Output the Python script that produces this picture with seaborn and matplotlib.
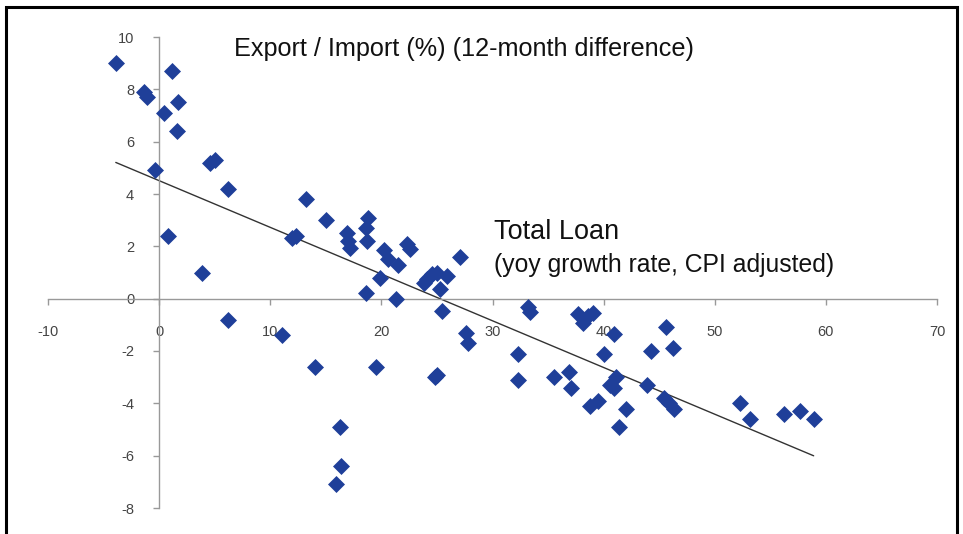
import numpy as np
import pandas as pd
import matplotlib
matplotlib.use("Agg")
import matplotlib.pyplot as plt
import seaborn as sns
from matplotlib.patches import Rectangle

# Data
loan_growth = [-3.9, -1.4, -1.1, 1.2, 0.4, 1.7, 1.6, -0.4, 0.8, 4.6, 5.0, 6.2, 3.9, 6.2,
               13.2, 12.0, 12.3, 15.0, 11.1, 14.0, 16.9, 17.0, 17.2, 18.8, 18.6, 18.7,
               20.2, 20.6, 21.5, 22.3, 22.6, 19.9, 18.6, 21.3, 27.1, 24.1, 24.6, 25.0,
               25.9, 23.8, 25.3, 25.5, 27.6, 27.8, 19.5, 24.8, 25.0, 16.3, 16.4, 15.9,
               33.2, 33.4, 37.7, 38.6, 39.0, 38.1, 40.9, 45.6, 46.2, 44.3, 40.0, 32.3,
               32.3, 35.5, 36.9, 37.1, 41.1, 40.9, 40.6, 43.9, 38.8, 39.5, 42.0,
               41.4, 45.4, 45.9, 46.3, 52.3, 53.2, 56.2, 57.7, 58.9]
export_import = [9.0, 7.9, 7.7, 8.7, 7.1, 7.5, 6.4, 4.9, 2.4, 5.2, 5.3, 4.2, 1.0, -0.8,
                 3.8, 2.3, 2.4, 3.0, -1.4, -2.6, 2.5, 2.2, 1.95, 3.1, 2.7, 2.2,
                 1.85, 1.5, 1.3, 2.1, 1.9, 0.8, 0.2, 0.0, 1.6, 0.77, 0.96, 1.0,
                 0.88, 0.61, 0.38, -0.46, -1.3, -1.7, -2.6, -3.0, -2.9, -4.9, -6.4, -7.1,
                 -0.3, -0.5, -0.57, -0.65, -0.54, -0.92, -1.35, -1.1, -1.9, -2.0, -2.1, -2.1,
                 -3.1, -3.0, -2.8, -3.4, -3.0, -3.4, -3.3, -3.3, -4.1, -3.9, -4.2,
                 -4.9, -3.8, -4.0, -4.2, -4.0, -4.6, -4.4, -4.3, -4.6]
x_ticks = [-10, 0, 10, 20, 30, 40, 50, 60, 70]
y_ticks = [-8, -6, -4, -2, 0, 2, 4, 6, 8, 10]

df = pd.DataFrame({"loan": loan_growth, "exim": export_import})

sns.set_theme(style="white")
plt.rcParams["font.family"] = ["Liberation Sans", "DejaVu Sans"]
plt.rcParams["axes.unicode_minus"] = False

W, H = 963, 534
fig = plt.figure(figsize=(W / 100, H / 100), dpi=100)
ax = fig.add_axes([48 / W, 1 - 508 / H, (937 - 48) / W, (508 - 37) / H])

sns.regplot(data=df, x="loan", y="exim", scatter=False, ci=None, ax=ax,
            line_kws=dict(color="#333333", lw=1.0), truncate=True)
sns.scatterplot(data=df, x="loan", y="exim", marker="D", s=75, color="#1f3f99",
                edgecolor="#1f3f99", linewidth=0, ax=ax, zorder=3)

ax.set_xlim(-10, 70)
ax.set_ylim(-8, 10)
ax.set_xticks(x_ticks)
ax.set_yticks(y_ticks)
ax.set_xlabel("")
ax.set_ylabel("")
ax.set_facecolor("none")
for s in ["top", "right"]:
    ax.spines[s].set_visible(False)
ax.spines["left"].set_position(("data", 0))
ax.spines["bottom"].set_position(("data", 0))
for s in ["left", "bottom"]:
    ax.spines[s].set_color("#999999")
    ax.spines[s].set_linewidth(1.0)
ax.tick_params(axis="x", direction="out", length=4, width=1, color="#999999",
               labelsize=10.5, labelcolor="#444444", pad=15, bottom=True)
ax.tick_params(axis="y", direction="out", length=4, width=1, color="#999999",
               labelsize=10.5, labelcolor="#444444", pad=14, left=True)
ax.grid(False)

fig.text(234 / W, 1 - 49 / H, "Export / Import (%) (12-month difference)",
         fontsize=18.2, color="#111111", va="center", ha="left")
fig.text(494 / W, 1 - 232 / H, "Total Loan", fontsize=19.5, color="#111111",
         va="center", ha="left")
fig.text(494 / W, 1 - 265 / H, "(yoy growth rate, CPI adjusted)", fontsize=17.8,
         color="#111111", va="center", ha="left")

fig.patches.append(Rectangle((6 / W, -0.05), (957 - 6) / W, 1.05 - 7 / H,
                             transform=fig.transFigure, fill=False,
                             edgecolor="black", linewidth=2.2))

fig.savefig("out.png", dpi=100)
